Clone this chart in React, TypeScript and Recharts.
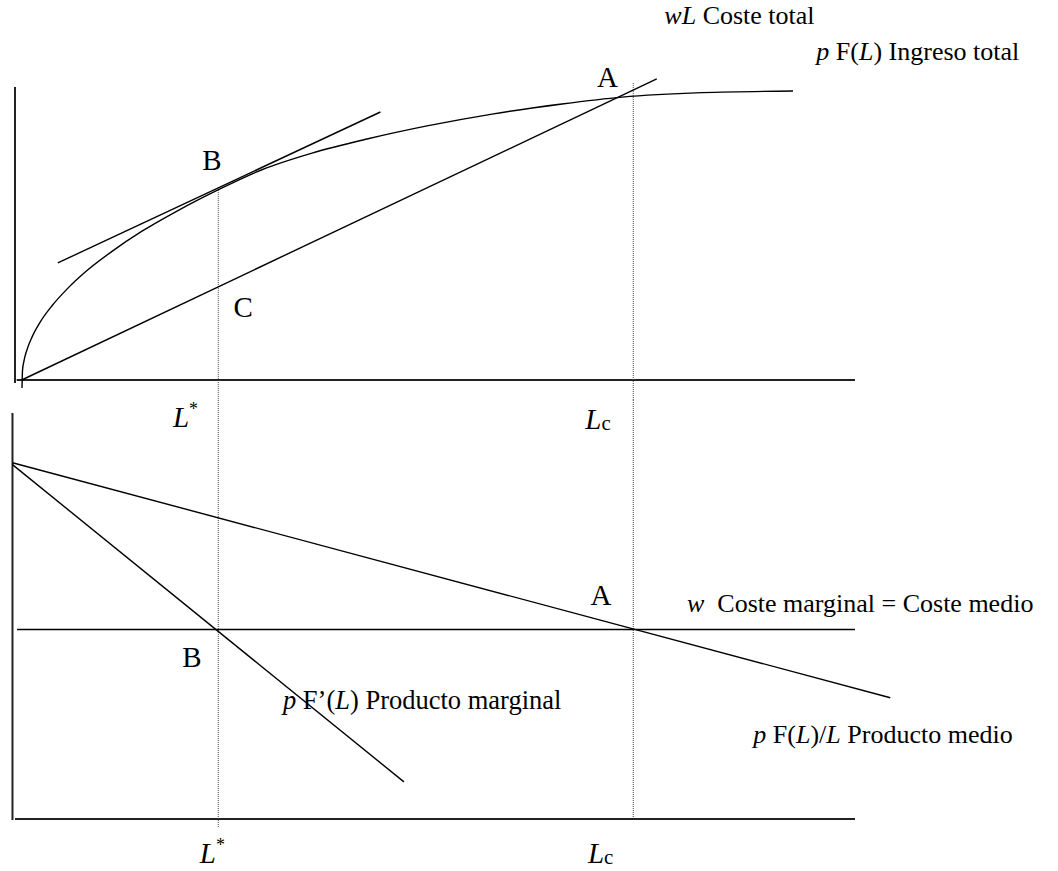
import { ComposedChart, Line, ReferenceDot, ReferenceLine, XAxis, YAxis } from "recharts";

// Labour L on the horizontal axis, shared by both panels.
const L_STAR = 24.2;
const L_C = 73.6;

// Upper panel: total revenue p·F(L).
const revenueL = [0.833, 0.893, 1.071, 1.429, 2.024, 2.976, 4.405, 6.19, 8.57, 11.55, 15.12, 19.29, 24.17, 29.4, 35.36, 41.9, 49.05, 56.79, 65.12, 72.26, 81.79, 92.62];
const revenueV = [-2.5, 3.0, 6.0, 9.47, 13.4, 18.0, 23.2, 28.4, 34.2, 40.2, 46.5, 52.8, 59.4, 65.7, 70.9, 75.3, 79.4, 83.1, 86.25, 88.4, 89.8, 90.3];

// Total cost wL and the tangent to revenue at B.
const costL = [0.8, 76.4];
const costV = [0, 94.1];
const tangentL = [5.1, 43.5];
const tangentV = [36.6, 83.75];

// Lower panel: average product, marginal product, wage.
const avgL = [-0.3, 104.2];
const avgV = [94, 32];
const margL = [-0.3, 46.3];
const margV = [93.5, 9.8];
const wageL = [0.24, 100];
const wageV = [50, 50];

const pts = (xs: number[], ys: number[]) => xs.map((x, i) => ({ L: x, v: ys[i] }));

const SERIF = '"Liberation Serif", "Times New Roman", serif';
const INK = "#000";
const AXIS = "#222";
const DOTS = "#444";

type Part = [string, ("i" | "sup" | "sub")?];
type Note = { L: number; v: number; parts: Part[]; size: number };

const topNotes: Note[] = [
  { L: 77.3, v: 111.25, size: 26, parts: [["wL", "i"], [" Coste total"]] },
  { L: 95.4, v: 100, size: 26, parts: [["p", "i"], [" F("], ["L", "i"], [") Ingreso total"]] },
  { L: 69.3, v: 91.6, size: 29, parts: [["A"]] },
  { L: 22.3, v: 65.6, size: 29, parts: [["B"]] },
  { L: 26, v: 19.7, size: 29, parts: [["C"]] },
  { L: 18.8, v: -14.7, size: 29, parts: [["L", "i"], ["*", "sup"]] },
  { L: 67.9, v: -15.3, size: 29, parts: [["L", "i"], ["c", "sub"]] },
];

const bottomNotes: Note[] = [
  { L: 68.5, v: 56.5, size: 29, parts: [["A"]] },
  { L: 80, v: 54.6, size: 26, parts: [["w", "i"], ["  Coste marginal = Coste medio"]] },
  { L: 19.9, v: 40.1, size: 29, parts: [["B"]] },
  { L: 31.9, v: 29.0, size: 26.5, parts: [["p", "i"], [" F\u2019("], ["L", "i"], [") Producto marginal"]] },
  { L: 87.9, v: 20.05, size: 26, parts: [["p", "i"], [" F("], ["L", "i"], [")/"], ["L", "i"], [" Producto medio"]] },
  { L: 22, v: -11.6, size: 29, parts: [["L", "i"], ["*", "sup"]] },
  { L: 68.2, v: -11.6, size: 29, parts: [["L", "i"], ["c", "sub"]] },
];

function NoteText({ viewBox, parts, size }: any) {
  const { x, y } = viewBox;
  let shift = 0;
  return (
    <text x={x} y={y} fontFamily={SERIF} fontSize={size} fill={INK} xmlSpace="preserve">
      {parts.map(([t, kind]: Part, i: number) => {
        let dy = 0;
        let fs = size;
        if (kind === "sup") {
          fs = size * 0.62;
          dy = -size * 0.42 - shift;
        } else if (kind === "sub") {
          fs = size * 0.72;
          dy = size * 0.05 - shift;
        } else {
          dy = -shift;
        }
        shift += dy;
        return (
          <tspan key={i} fontStyle={kind === "i" ? "italic" : "normal"} fontSize={fs} dy={dy}>
            {t}
          </tspan>
        );
      })}
    </text>
  );
}

function notes(list: Note[]) {
  return list.map((n, i) => (
    <ReferenceDot
      key={i}
      x={n.L}
      y={n.v}
      r={0}
      fill="none"
      stroke="none"
      ifOverflow="visible"
      label={{ content: (p: any) => <NoteText viewBox={p.viewBox} parts={n.parts} size={n.size} /> }}
    />
  ));
}

function seg(x1: number, y1: number, x2: number, y2: number, stroke: string, width: number, dash?: string) {
  return (
    <ReferenceLine
      segment={[{ x: x1, y: y1 }, { x: x2, y: y2 }]}
      stroke={stroke}
      strokeWidth={width}
      strokeDasharray={dash}
      ifOverflow="visible"
    />
  );
}

const curve = { dataKey: "v", dot: false, stroke: INK, strokeWidth: 1.4, isAnimationActive: false };

function TopPanel() {
  return (
    <ComposedChart width={1058} height={440} margin={{ top: 12, right: 161, bottom: 12, left: 6.6 }}>
      <XAxis type="number" dataKey="L" domain={[-1, 105]} allowDataOverflow hide />
      <YAxis type="number" domain={[-15, 115]} allowDataOverflow hide />
      {seg(0, 91.6, 0, -0.9, AXIS, 2)}
      {seg(0.2, 0, 100, 0, AXIS, 2)}
      {seg(L_STAR, 59.4, L_STAR, -6.25, DOTS, 1, "1 1")}
      {seg(L_C, 92.8, L_C, -6.25, DOTS, 1, "1 1")}
      <Line {...curve} data={pts(revenueL, revenueV)} type="monotone" />
      <Line {...curve} data={pts(costL, costV)} type="linear" />
      <Line {...curve} data={pts(tangentL, tangentV)} type="linear" />
      {notes(topNotes)}
    </ComposedChart>
  );
}

function BottomPanel() {
  return (
    <ComposedChart width={1058} height={471} margin={{ top: 2.1, right: 161, bottom: 14.1, left: 6.6 }}>
      <XAxis type="number" dataKey="L" domain={[-1, 105]} allowDataOverflow hide />
      <YAxis type="number" domain={[-10, 110]} allowDataOverflow hide />
      {seg(-0.3, 107.1, -0.3, -0.26, AXIS, 2)}
      {seg(0, 0, 100, 0, AXIS, 2)}
      {seg(L_STAR, 110.55, L_STAR, -2.1, DOTS, 1, "1 1")}
      {seg(L_C, 110.55, L_C, 0.5, DOTS, 1, "1 1")}
      <Line {...curve} data={pts(wageL, wageV)} type="linear" />
      <Line {...curve} data={pts(avgL, avgV)} type="linear" />
      <Line {...curve} data={pts(margL, margV)} type="linear" />
      {notes(bottomNotes)}
    </ComposedChart>
  );
}

export default function App() {
  return (
    <div style={{ position: "absolute", left: 0, top: 0, width: 1058, height: 871, background: "#fff" }}>
      <div style={{ position: "absolute", left: 0, top: 0 }}>
        <TopPanel />
      </div>
      <div style={{ position: "absolute", left: 0, top: 400 }}>
        <BottomPanel />
      </div>
    </div>
  );
}
